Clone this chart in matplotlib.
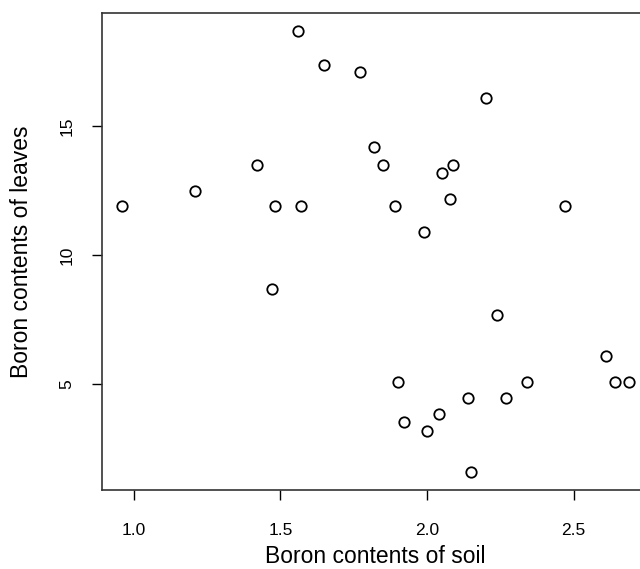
import numpy as np
import matplotlib.pyplot as plt

# Boron contents: soil (x) vs leaves (y)
soil = [0.96, 1.21, 1.42, 1.48, 1.57, 1.56, 1.65, 1.77,
        2.20, 1.82, 1.85, 2.09, 2.05, 1.89, 2.08, 2.47, 1.99,
        1.47,
        2.24, 2.61, 1.90, 2.34, 2.64, 2.69, 2.14, 2.27, 2.04, 1.92, 2.00, 2.15]
leaves = [11.9, 12.5, 13.5, 11.9, 11.9, 18.7, 17.4, 17.1,
          16.1, 14.2, 13.5, 13.5, 13.2, 11.9, 12.2, 11.9, 10.9,
          8.7,
          7.7, 6.1, 5.1, 5.1, 5.1, 5.1, 4.45, 4.45, 3.84, 3.52, 3.18, 1.58]
xticks = [1.0, 1.5, 2.0, 2.5]
yticks = [5, 10, 15]

plt.rcParams['font.family'] = ['Liberation Sans', 'DejaVu Sans']

fig = plt.figure(figsize=(6.4, 5.69), dpi=100)
# axes run past the right edge (the reference image is cropped there)
ax = fig.add_axes([0.159, 0.1388, 0.856, 0.8375])

ax.plot(soil, leaves, 'o', mfc='white', mec='black', ms=7.5, mew=1.3)
ax.margins(x=0.04, y=0.04)

ax.set_xticks(xticks)
ax.set_xticklabels(['1.0', '1.5', '2.0', '2.5'])
ax.set_yticks(yticks)
ax.set_yticklabels([str(v) for v in yticks], rotation=90, va='center')
ax.tick_params(length=7, width=1, labelsize=12.5)
ax.tick_params(axis='x', pad=16.5)
ax.tick_params(axis='y', pad=12.5)

for s in ax.spines.values():
    s.set_color('#333333')
    s.set_linewidth(1.2)

ax.set_xlabel('Boron contents of soil', fontsize=16.5, labelpad=5)
ax.set_ylabel('Boron contents of leaves', fontsize=16.5, labelpad=19)

fig.savefig('out.png', dpi=100)
